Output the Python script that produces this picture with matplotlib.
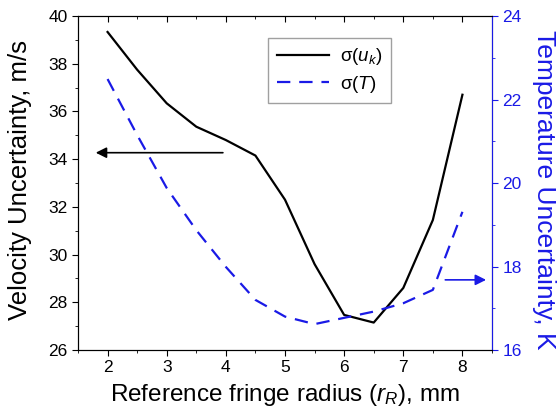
import matplotlib.pyplot as plt
from matplotlib.ticker import MultipleLocator

plt.rcParams['font.family'] = ['Liberation Sans', 'DejaVu Sans']
plt.rcParams['mathtext.fontset'] = 'custom'
plt.rcParams['mathtext.it'] = 'Liberation Sans:italic'
plt.rcParams['mathtext.rm'] = 'Liberation Sans'

# reference fringe radius, mm
radius = [2, 2.5, 3, 3.5, 4, 4.5, 5, 5.5, 6, 6.5, 7, 7.5, 8]
# velocity uncertainty, m/s
sigma_u = [39.33, 37.75, 36.34, 35.36, 34.8, 34.15, 32.3, 29.6, 27.47, 27.15, 28.6, 31.45, 36.7]
# temperature uncertainty, K
sigma_T = [22.49, 21.15, 19.88, 18.87, 17.99, 17.2, 16.8, 16.62, 16.77, 16.92, 17.12, 17.44, 19.31]

blue = '#1a1ae6'

fig = plt.figure(figsize=(5.6, 4.19), dpi=100)
ax = fig.add_axes([78/560, 1 - 350/419, 414/560, 334/419])
ax2 = ax.twinx()

l1, = ax.plot(radius, sigma_u, color='black', lw=1.6)
l2, = ax2.plot(radius, sigma_T, color=blue, lw=1.6, dashes=(6, 4))

ax.set_xlim(1.5, 8.5)
ax.set_ylim(26, 40)
ax2.set_ylim(16, 24)

ax.xaxis.set_major_locator(MultipleLocator(1))
ax.xaxis.set_minor_locator(MultipleLocator(0.5))
ax.yaxis.set_major_locator(MultipleLocator(2))
ax.yaxis.set_minor_locator(MultipleLocator(1))
ax2.yaxis.set_major_locator(MultipleLocator(2))
ax2.yaxis.set_minor_locator(MultipleLocator(1))

ax.tick_params(which='both', direction='out', labelsize=12.5, top=True)
ax.tick_params(which='major', length=4)
ax.tick_params(which='minor', length=2.5)
ax2.tick_params(which='both', direction='out', colors=blue, labelsize=12.5)
ax2.tick_params(which='major', length=4)
ax2.tick_params(which='minor', length=2.5)
ax2.spines['right'].set_color(blue)
# top ticks point inward
for t in ax.xaxis.get_major_ticks() + ax.xaxis.get_minor_ticks():
    t.tick2line.set_marker(3)

ax.set_xlabel('Reference fringe radius ($r_R$), mm', fontsize=17.5)
ax.set_ylabel('Velocity Uncertainty, m/s', fontsize=18.5)
ax2.set_ylabel('Temperature Uncertainty, K', fontsize=19, color=blue, rotation=270)
ax.xaxis.set_label_coords(0.5, -0.135)
ax.yaxis.set_label_coords(-0.14, 0.51)
ax2.yaxis.set_label_coords(1.125, 0.48)
ax2.yaxis.label.set_va('center')
ax.yaxis.label.set_va('center')
ax.xaxis.label.set_va('center')

ax.annotate('', xy=(1.8, 34.27), xytext=(3.95, 34.27),
            arrowprops=dict(arrowstyle='-|>', color='black', lw=1.2,
                            mutation_scale=16, shrinkA=0, shrinkB=0))
ax2.annotate('', xy=(8.4, 17.68), xytext=(7.71, 17.68),
             arrowprops=dict(arrowstyle='-|>', color=blue, lw=1.2,
                             mutation_scale=16, shrinkA=0, shrinkB=0))

leg = ax.legend([l1, l2], [r'$\mathrm{\sigma}(u_k)$', r'$\mathrm{\sigma}(T)$'],
                loc='upper left', bbox_to_anchor=(0.437, 0.963),
                fontsize=13.5, frameon=True, fancybox=False, edgecolor='#888888',
                handlelength=2.8, borderpad=0.45, labelspacing=0.35,
                handletextpad=0.6)
leg.get_frame().set_linewidth(1.0)

fig.savefig('out.png', dpi=100)
